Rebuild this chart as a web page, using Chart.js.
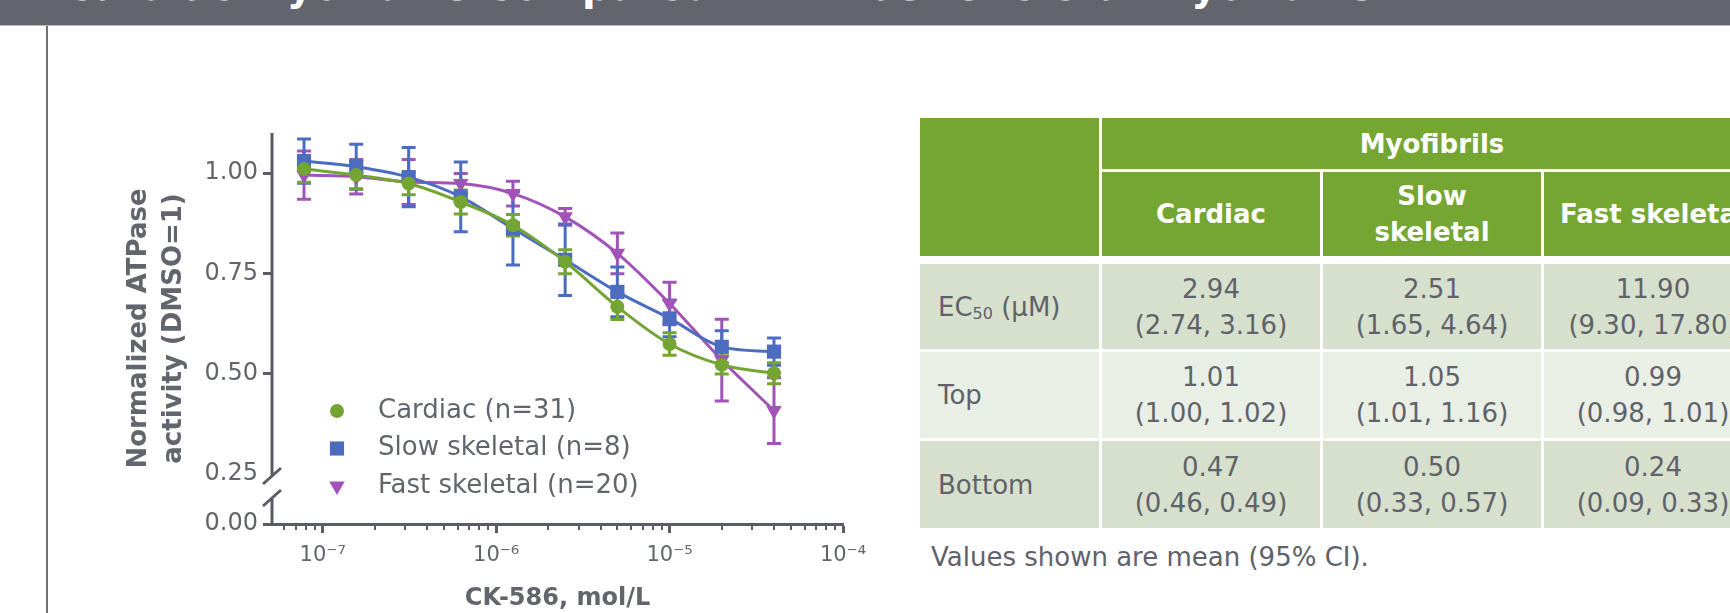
<!DOCTYPE html>
<html>
<head>
<meta charset="utf-8">
<script src="https://cdn.jsdelivr.net/npm/chart.js@4.4.1/dist/chart.umd.min.js"></script>
<style>
body{margin:0;width:1730px;height:613px;overflow:hidden;background:#fff;position:relative;font-family:'DejaVu Sans',sans-serif}
#band{position:absolute;left:0;top:0;width:1730px;height:25px;background:#62656c;border-bottom:1px solid #b3b5b9;overflow:hidden}
#band span{position:absolute;left:64px;top:-37px;color:#fff;font:bold 40px 'DejaVu Sans';white-space:nowrap}
#frame{position:absolute;left:46px;top:26px;width:2px;height:600px;background:#6e7178}
#c{position:absolute;left:0;top:0}
#tbl{position:absolute;left:920px;top:118px;display:grid;grid-template-columns:179px 218px 218px 218px;grid-template-rows:51px 84px 2px 85px 86px 87px;gap:3px}
#tbl div{display:flex;align-items:center;justify-content:center;text-align:center;font-size:26px;line-height:36px;color:#5f626a}
#tbl .hd{background:#76a632;color:#fff;font-weight:bold}
#tbl .r0{background:#d6e0cc}
#tbl .r1{background:#e9efe4}
#tbl .lab{justify-content:flex-start;padding-left:18px;text-align:left}
#tbl sub{font-size:16px;vertical-align:-3px;line-height:0}
#note{position:absolute;left:931px;top:542px;font-size:26px;color:#5f626a;white-space:nowrap}
</style>
</head>
<body>
<div id="band"><span>Cardiac Myofibrils Compared With Fast Skeletal Myofibrils</span></div>
<div id="frame"></div>
<canvas id="c" width="900" height="613" style="width:900px;height:613px"></canvas>
<div id="tbl"></div>
<div id="note">Values shown are mean (95% CI).</div>
<script>
// concentrations, mol/L
const conc = [7.8e-8, 1.56e-7, 3.13e-7, 6.25e-7, 1.25e-6, 2.5e-6, 5e-6, 1e-5, 2e-5, 4e-5];

const seriesNames = ['Cardiac (n=31)', 'Slow skeletal (n=8)', 'Fast skeletal (n=20)'];
const cardiac = [1.010, 0.995, 0.974, 0.928, 0.870, 0.779, 0.667, 0.574, 0.522, 0.501];
const cardiacErr = [0.033, 0.034, 0.028, 0.030, 0.027, 0.030, 0.032, 0.028, 0.023, 0.026];
const slow = [1.030, 1.016, 0.990, 0.941, 0.862, 0.784, 0.704, 0.638, 0.567, 0.555];
const slowErr = [0.055, 0.056, 0.074, 0.087, 0.091, 0.089, 0.062, 0.046, 0.040, 0.034];
const fast = [0.995, 0.991, 0.978, 0.974, 0.949, 0.891, 0.800, 0.675, 0.534, 0.408];
const fastErr = [0.060, 0.043, 0.056, 0.025, 0.031, 0.021, 0.051, 0.053, 0.102, 0.082];

const xTicks = [1e-7, 1e-6, 1e-5, 1e-4];
const xTickLabels = ['10\u207B\u2077', '10\u207B\u2076', '10\u207B\u2075', '10\u207B\u2074'];
const yTicks = [0, 0.25, 0.5, 0.75, 1.0];
const yTickLabels = ['0.00', '0.25', '0.50', '0.75', '1.00'];

// table
const colHeads = ['Cardiac', 'Slow<br>skeletal', 'Fast skeletal'];
const rowLabels = ['<span>EC<sub>50</sub> (\u00B5M)</span>', 'Top', 'Bottom'];
const tblMean = [['2.94', '2.51', '11.90'], ['1.01', '1.05', '0.99'], ['0.47', '0.50', '0.24']];
const tblCI = [['(2.74, 3.16)', '(1.65, 4.64)', '(9.30, 17.80)'],
               ['(1.00, 1.02)', '(1.01, 1.16)', '(0.98, 1.01)'],
               ['(0.46, 0.49)', '(0.33, 0.57)', '(0.09, 0.33)']];

const GREEN = '#74a532', BLUE = '#4b6cbf', PURPLE = '#a153b8';
const AXIS = '#595c63', TXT = '#62656c';
const FONT = "'DejaVu Sans', sans-serif";

// build table
const tbl = document.getElementById('tbl');
function cell(html, cls, style) {
  const d = document.createElement('div');
  d.className = cls; d.innerHTML = html;
  if (style) d.style.cssText = style;
  tbl.appendChild(d);
}
cell('', 'hd', 'grid-row:1/3;grid-column:1');
cell('Myofibrils', 'hd', 'grid-row:1;grid-column:2/5');
colHeads.forEach((h, i) => cell('<span>' + h + '</span>', 'hd', 'grid-row:2;grid-column:' + (i + 2)));
cell('', '', 'grid-row:3;grid-column:1/5');
rowLabels.forEach((r, i) => {
  const cls = i % 2 ? 'r1' : 'r0';
  cell(r, cls + ' lab', 'grid-row:' + (i + 4) + ';grid-column:1');
  tblMean[i].forEach((m, j) => cell('<span>' + m + '<br>' + tblCI[i][j] + '</span>', cls, 'grid-row:' + (i + 4) + ';grid-column:' + (j + 2)));
});

// y axis with a compressed section below the break
const Y_BREAK = 0.25, LOW_SHARE = 50 / 391, Y_LOW_TOP = 0.13;
class BrokenLinear extends Chart.LinearScale {
  getPixelForValue(v) {
    const h = this.bottom - this.top, lowH = h * LOW_SHARE;
    if (v <= Y_BREAK) return this.bottom - v / Y_BREAK * lowH;
    return this.bottom - lowH - (v - Y_BREAK) / (this.max - Y_BREAK) * (h - lowH);
  }
  getValueForPixel(p) {
    const h = this.bottom - this.top, lowH = h * LOW_SHARE;
    const d = this.bottom - p;
    if (d <= lowH) return d / lowH * Y_BREAK;
    return Y_BREAK + (d - lowH) / (h - lowH) * (this.max - Y_BREAK);
  }
}
BrokenLinear.id = 'brokenLinear';
BrokenLinear.defaults = Chart.LinearScale.defaults;
Chart.register(BrokenLinear);

function pts(arr) { return arr.map((v, i) => ({x: conc[i], y: v})); }

const errorBars = {
  id: 'errorBars',
  beforeDatasetsDraw(chart) {
    const {ctx, scales: {x, y}} = chart;
    for (let i = chart.data.datasets.length - 1; i >= 0; i--) {
      const ds = chart.data.datasets[i];
      ctx.save();
      ctx.strokeStyle = ds.borderColor; ctx.lineWidth = 3;
      ds.data.forEach((p, j) => {
        const px = x.getPixelForValue(p.x);
        const hi = y.getPixelForValue(p.y + ds.err[j]);
        const lo = y.getPixelForValue(p.y - ds.err[j]);
        ctx.beginPath();
        ctx.moveTo(px, hi); ctx.lineTo(px, lo);
        ctx.moveTo(px - 7, hi); ctx.lineTo(px + 7, hi);
        ctx.moveTo(px - 7, lo); ctx.lineTo(px + 7, lo);
        ctx.stroke();
      });
      ctx.restore();
    }
  }
};

const axisDecor = {
  id: 'axisDecor',
  afterDraw(chart) {
    const {ctx, chartArea: a, scales: {x, y}} = chart;
    ctx.save();
    ctx.strokeStyle = AXIS; ctx.lineWidth = 3;
    const xa = a.left;
    const yEnd = y.getPixelForValue(Y_BREAK) + 2;
    const yStart = y.getPixelForValue(Y_LOW_TOP);
    ctx.beginPath();
    ctx.moveTo(xa, a.top); ctx.lineTo(xa, yEnd);
    ctx.moveTo(xa, yStart); ctx.lineTo(xa, a.bottom + 1.5);
    ctx.moveTo(xa - 9, yEnd + 8); ctx.lineTo(xa + 9, yEnd - 8);
    ctx.moveTo(xa - 9, yStart + 8); ctx.lineTo(xa + 9, yStart - 8);
    ctx.stroke();
    // minor log ticks
    ctx.lineWidth = 2;
    ctx.beginPath();
    [1e-8].concat(xTicks).forEach(d => {
      for (let m = 2; m <= 9; m++) {
        const v = m * d;
        if (v < x.min || v > x.max) continue;
        const px = Math.round(x.getPixelForValue(v));
        ctx.moveTo(px, a.bottom); ctx.lineTo(px, a.bottom + 6);
      }
    });
    ctx.stroke();
    ctx.restore();
  }
};

const legendBox = {
  id: 'legendBox',
  afterDraw(chart) {
    const {ctx, chartArea: a} = chart;
    ctx.save();
    chart.data.datasets.forEach((ds, i) => {
      const yy = a.bottom - 113 + i * 37.5;
      ctx.fillStyle = ds.backgroundColor; ctx.strokeStyle = ds.borderColor;
      Chart.helpers.drawPoint(ctx, {pointStyle: ds.pointStyle, radius: ds.pointRadius,
        rotation: ds.pointRotation || 0, borderWidth: 0}, a.left + 65, yy);
      ctx.fillStyle = TXT;
      ctx.font = '26px ' + FONT;
      ctx.textBaseline = 'middle';
      ctx.fillText(ds.label, a.left + 106, yy);
    });
    ctx.restore();
  }
};

function mk(label, data, err, color, style, r, rot) {
  return {label, data: pts(data), err, borderColor: color, backgroundColor: color,
    borderWidth: 3, pointStyle: style, pointRadius: r, pointRotation: rot,
    pointBorderWidth: 0, cubicInterpolationMode: 'monotone', fill: false};
}

new Chart(document.getElementById('c'), {
  type: 'line',
  data: {
    datasets: [
      mk(seriesNames[0], cardiac, cardiacErr, GREEN, 'circle', 7, 0),
      mk(seriesNames[1], slow, slowErr, BLUE, 'rect', 10, 0),
      mk(seriesNames[2], fast, fastErr, PURPLE, 'triangle', 9, 180)
    ]
  },
  options: {
    responsive: false,
    animation: false,
    devicePixelRatio: 1,
    layout: {padding: {left: 100, top: 133, right: 57, bottom: 0}},
    plugins: {legend: {display: false}, tooltip: {enabled: false}},
    scales: {
      x: {
        type: 'logarithmic', min: 5.1e-8, max: 1e-4, bounds: 'data',
        afterBuildTicks: s => { s.ticks = xTicks.map(v => ({value: v, major: true})); },
        afterFit: s => { s.height = 89; },
        ticks: {autoSkip: false, maxRotation: 0, padding: 10, color: TXT,
          font: {family: FONT, size: 21}, callback: (v, i) => xTickLabels[i]},
        grid: {drawOnChartArea: false, tickLength: 9, tickWidth: 3, tickColor: AXIS},
        border: {display: true, color: AXIS, width: 3},
        title: {display: true, text: 'CK-586, mol/L', color: TXT,
          font: {family: FONT, size: 24, weight: 'bold'}, padding: {top: 0, bottom: 0}}
      },
      y: {
        type: 'brokenLinear', min: 0, max: 1.1, bounds: 'data',
        afterBuildTicks: s => { s.ticks = yTicks.map(v => ({value: v})); },
        afterFit: s => { s.width = 172; },
        ticks: {autoSkip: false, padding: 5, color: TXT,
          font: {family: FONT, size: 24}, callback: (v, i) => yTickLabels[i]},
        grid: {drawOnChartArea: false, tickLength: 9, tickWidth: 3,
          tickColor: c => (c.tick && c.tick.value === Y_BREAK) ? 'rgba(0,0,0,0)' : AXIS},
        border: {display: false},
        title: {display: true, text: ['Normalized ATPase', 'activity (DMSO=1)'], color: TXT,
          font: {family: FONT, size: 26, weight: 'bold', lineHeight: 1.35}, padding: {top: 22, bottom: 0}}
      }
    }
  },
  plugins: [errorBars, axisDecor, legendBox]
});
</script>
</body>
</html>
